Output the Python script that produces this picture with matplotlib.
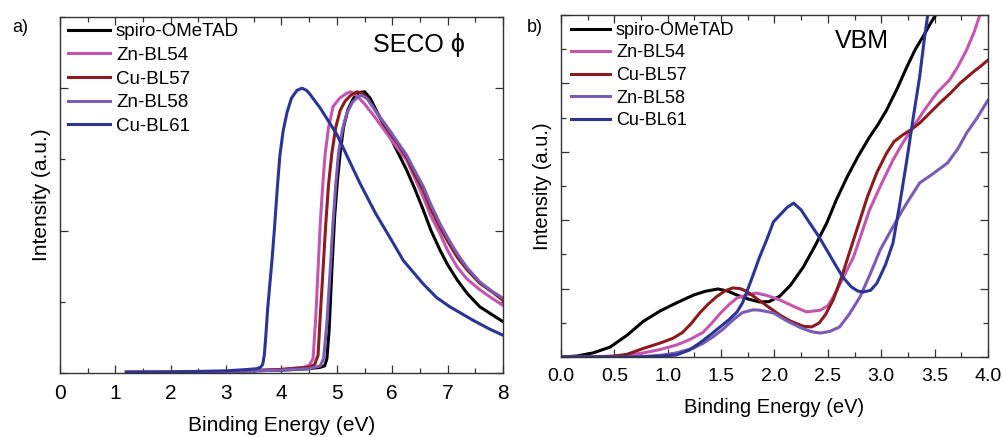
import matplotlib
matplotlib.use("Agg")
import matplotlib.pyplot as plt
from matplotlib.ticker import MultipleLocator

plt.rcParams['font.family'] = ['Liberation Sans', 'DejaVu Sans']

labels = ["spiro-OMeTAD", "Zn-BL54", "Cu-BL57", "Zn-BL58", "Cu-BL61"]
colors = ["#000000", "#c456ae", "#8b1c1e", "#7a5cb6", "#2b3596"]

# ---- (a) secondary electron cut-off ----
seco_spiro_x = [1.2, 2.0, 3.0, 4.0, 4.5, 4.7, 4.78, 4.82, 4.86, 4.91, 4.96, 5.01, 5.06, 5.12, 5.2, 5.3, 5.4, 5.5,
                5.6, 5.75, 5.96, 6.1, 6.26, 6.4, 6.56, 6.7, 6.86, 7.0, 7.17, 7.35, 7.58, 7.8, 8.0]
seco_spiro_y = [0.01, 0.01, 0.02, 0.04, 0.06, 0.08, 0.1, 0.2, 0.6, 1.45, 2.2, 2.7, 3.09, 3.45, 3.7, 3.86, 3.94, 3.95,
                3.86, 3.63, 3.32, 3.1, 2.85, 2.6, 2.29, 2.0, 1.73, 1.52, 1.31, 1.12, 0.93, 0.82, 0.72]

seco_zn54_x = [1.2, 2.0, 3.0, 4.0, 4.4, 4.5, 4.57, 4.62, 4.66, 4.7, 4.75, 4.79, 4.85, 4.93, 5.05, 5.18, 5.25, 5.35,
               5.5, 5.7, 5.96, 6.1, 6.26, 6.4, 6.56, 6.7, 6.86, 7.0, 7.17, 7.35, 7.58, 7.8, 8.0]
seco_zn54_y = [0.01, 0.01, 0.02, 0.05, 0.08, 0.11, 0.2, 0.8, 1.45, 2.1, 2.7, 3.09, 3.45, 3.74, 3.86, 3.93, 3.95, 3.9,
               3.78, 3.58, 3.3, 3.15, 2.99, 2.75, 2.47, 2.2, 1.96, 1.72, 1.49, 1.32, 1.17, 1.05, 0.95]

seco_cu57_x = [1.2, 2.0, 3.0, 4.0, 4.5, 4.6, 4.66, 4.7, 4.75, 4.8, 4.85, 4.91, 4.98, 5.06, 5.15, 5.25, 5.36, 5.45,
               5.55, 5.7, 5.96, 6.1, 6.26, 6.4, 6.56, 6.7, 6.86, 7.0, 7.17, 7.35, 7.58, 7.8, 8.0]
seco_cu57_y = [0.01, 0.01, 0.02, 0.05, 0.08, 0.12, 0.25, 0.8, 1.45, 2.1, 2.65, 3.09, 3.45, 3.69, 3.82, 3.9, 3.95, 3.93,
               3.86, 3.68, 3.37, 3.22, 3.03, 2.8, 2.57, 2.3, 2.05, 1.85, 1.63, 1.45, 1.26, 1.14, 1.02]

seco_zn58_x = [1.2, 2.0, 3.0, 4.0, 4.5, 4.7, 4.76, 4.82, 4.88, 4.93, 4.98, 5.03, 5.1, 5.18, 5.28, 5.38, 5.45, 5.55,
               5.7, 5.96, 6.1, 6.26, 6.4, 6.56, 6.7, 6.86, 7.0, 7.17, 7.35, 7.58, 7.8, 8.0]
seco_zn58_y = [0.01, 0.01, 0.02, 0.04, 0.06, 0.1, 0.2, 0.7, 1.45, 2.1, 2.65, 3.09, 3.42, 3.65, 3.8, 3.88, 3.9, 3.85,
               3.68, 3.4, 3.24, 3.06, 2.85, 2.62, 2.36, 2.1, 1.9, 1.68, 1.48, 1.28, 1.15, 1.05]

seco_cu61_x = [1.2, 2.0, 3.0, 3.4, 3.55, 3.62, 3.66, 3.69, 3.72, 3.75, 3.79, 3.83, 3.87, 3.92, 3.97, 4.03, 4.1, 4.18,
               4.28, 4.37, 4.45, 4.5, 4.7, 5.0, 5.2, 5.42, 5.7, 5.96, 6.2, 6.56, 6.8, 7.04, 7.46, 7.75, 8.0]
seco_cu61_y = [0.01, 0.015, 0.03, 0.05, 0.06, 0.08, 0.12, 0.25, 0.55, 0.9, 1.25, 1.6, 2.0, 2.55, 3.05, 3.4, 3.66, 3.86,
               3.97, 4.0, 3.97, 3.93, 3.72, 3.35, 3.02, 2.66, 2.24, 1.9, 1.58, 1.25, 1.06, 0.93, 0.74, 0.62, 0.53]

# ---- (b) valence band maximum ----
vbm_spiro_x = [0.0, 0.15, 0.3, 0.46, 0.62, 0.77, 0.93, 1.08, 1.24, 1.35, 1.47, 1.56, 1.65, 1.75, 1.86, 1.95, 2.05,
               2.15, 2.27, 2.38, 2.49, 2.58, 2.68, 2.78, 2.89, 2.97, 3.05, 3.15, 3.24, 3.32, 3.39, 3.46, 3.52]
vbm_spiro_y = [0.0, 0.03, 0.12, 0.29, 0.64, 1.04, 1.35, 1.58, 1.81, 1.92, 1.99, 1.93, 1.81, 1.7, 1.61, 1.62, 1.78,
               2.1, 2.63, 3.25, 3.92, 4.6, 5.26, 5.85, 6.43, 6.8, 7.22, 7.85, 8.48, 9.0, 9.36, 9.75, 10.05]

vbm_zn54_x = [0.0, 0.4, 0.6, 0.77, 0.93, 1.08, 1.2, 1.33, 1.41, 1.49, 1.57, 1.65, 1.75, 1.83, 1.93, 2.05, 2.18, 2.3,
              2.43, 2.5, 2.55, 2.64, 2.74, 2.82, 2.89, 3.0, 3.11, 3.2, 3.3, 3.4, 3.52, 3.64, 3.72, 3.8, 3.87, 3.93]
vbm_zn54_y = [0.0, 0.0, 0.04, 0.12, 0.22, 0.35, 0.5, 0.72, 0.98, 1.27, 1.52, 1.73, 1.82, 1.87, 1.8, 1.67, 1.48, 1.32,
              1.37, 1.5, 1.75, 2.3, 2.92, 3.65, 4.3, 5.05, 5.76, 6.25, 6.73, 7.2, 7.72, 8.1, 8.5, 8.98, 9.5, 10.05]

vbm_cu57_x = [0.0, 0.3, 0.5, 0.62, 0.77, 0.93, 1.05, 1.14, 1.22, 1.3, 1.38, 1.46, 1.54, 1.61, 1.68, 1.74, 1.86, 1.95,
              2.05, 2.15, 2.27, 2.35, 2.42, 2.48, 2.55, 2.63, 2.71, 2.79, 2.87, 2.96, 3.05, 3.12, 3.2, 3.28, 3.36,
              3.45, 3.55, 3.65, 3.74, 3.86, 3.93, 4.0]
vbm_cu57_y = [0.0, 0.0, 0.03, 0.08, 0.25, 0.41, 0.55, 0.72, 0.98, 1.29, 1.55, 1.77, 1.94, 2.02, 2.0, 1.92, 1.65, 1.45,
              1.23, 1.05, 0.9, 0.88, 1.0, 1.25, 1.67, 2.35, 3.13, 3.9, 4.68, 5.4, 5.96, 6.3, 6.49, 6.65, 6.84,
              7.12, 7.43, 7.72, 8.01, 8.33, 8.5, 8.68]

vbm_zn58_x = [0.0, 0.6, 0.8, 0.93, 1.08, 1.24, 1.33, 1.42, 1.52, 1.61, 1.7, 1.8, 1.86, 1.99, 2.12, 2.25, 2.35, 2.43,
              2.52, 2.61, 2.7, 2.8, 2.9, 2.99, 3.1, 3.2, 3.28, 3.36, 3.48, 3.62, 3.72, 3.8, 3.9, 4.0]
vbm_zn58_y = [0.0, 0.0, 0.02, 0.05, 0.12, 0.26, 0.4, 0.58, 0.82, 1.08, 1.3, 1.38, 1.37, 1.29, 1.05, 0.85, 0.74, 0.7,
              0.75, 0.88, 1.25, 1.75, 2.45, 3.13, 3.75, 4.3, 4.7, 5.09, 5.35, 5.67, 6.1, 6.55, 7.0, 7.51]

vbm_cu61_x = [0.0, 0.7, 0.9, 1.08, 1.2, 1.3, 1.4, 1.49, 1.57, 1.65, 1.7, 1.74, 1.8, 1.86, 1.93, 1.99, 2.05, 2.12,
              2.18, 2.25, 2.33, 2.41, 2.49, 2.57, 2.64, 2.72, 2.78, 2.83, 2.9, 2.96, 3.04, 3.11, 3.17, 3.24, 3.3,
              3.36, 3.4, 3.44]
vbm_cu61_y = [0.0, 0.0, 0.02, 0.06, 0.2, 0.41, 0.65, 0.88, 1.08, 1.32, 1.58, 1.9, 2.4, 2.92, 3.45, 3.95, 4.15, 4.38,
              4.5, 4.3, 3.92, 3.55, 3.13, 2.7, 2.34, 2.05, 1.93, 1.9, 1.95, 2.16, 2.7, 3.33, 4.4, 5.76, 7.0,
              8.19, 9.2, 10.1]

seco = [(seco_spiro_x, seco_spiro_y), (seco_zn54_x, seco_zn54_y), (seco_cu57_x, seco_cu57_y),
        (seco_zn58_x, seco_zn58_y), (seco_cu61_x, seco_cu61_y)]
vbm = [(vbm_spiro_x, vbm_spiro_y), (vbm_zn54_x, vbm_zn54_y), (vbm_cu57_x, vbm_cu57_y),
       (vbm_zn58_x, vbm_zn58_y), (vbm_cu61_x, vbm_cu61_y)]

fig = plt.figure(figsize=(10.03, 4.37), dpi=100)
ax_a = fig.add_axes([0.0598, 0.1465, 0.4417, 0.8146])
ax_b = fig.add_axes([0.5593, 0.1830, 0.4257, 0.7826])

lw = 2.2
for (x, y), c, lab in zip(seco, colors, labels):
    ax_a.plot(x, y, color=c, lw=lw, label=lab, solid_joinstyle='round')
for (x, y), c, lab in zip(vbm, colors, labels):
    ax_b.plot(x, y, color=c, lw=lw, label=lab, solid_joinstyle='round')


def style(ax, xmaj, xmin, ymaj, ymin, fs, pad):
    ax.xaxis.set_major_locator(MultipleLocator(xmaj))
    ax.xaxis.set_minor_locator(MultipleLocator(xmin))
    ax.yaxis.set_major_locator(MultipleLocator(ymaj))
    ax.yaxis.set_minor_locator(MultipleLocator(ymin))
    ax.tick_params(which='both', direction='in', top=True, right=True, width=0.9, color='#333333')
    ax.tick_params(which='major', length=6, labelsize=fs, pad=pad)
    ax.tick_params(which='minor', length=3.5)
    ax.tick_params(axis='y', labelleft=False)
    for s in ax.spines.values():
        s.set_linewidth(1.0)
        s.set_color('#333333')


ax_a.set_xlim(0, 8)
ax_a.set_ylim(0, 5)
style(ax_a, 1, 0.5, 2, 1, 15, 8)
ax_a.set_xlabel("Binding Energy (eV)", fontsize=15, labelpad=9)
ax_a.set_ylabel("Intensity (a.u.)", fontsize=15, labelpad=3)
ax_a.text(0.81, 0.92, "SECO \u03d5", transform=ax_a.transAxes, ha='center', va='center', fontsize=18)

ax_b.set_xlim(0, 4)
ax_b.set_ylim(0, 10)
style(ax_b, 0.5, 0.25, 2, 1, 14, 8)
ax_b.set_xlabel("Binding Energy (eV)", fontsize=14.5, labelpad=9)
ax_b.set_ylabel("Intensity (a.u.)", fontsize=14.5, labelpad=3)
ax_b.text(0.705, 0.925, "VBM", transform=ax_b.transAxes, ha='center', va='center', fontsize=18)

ax_a.legend(loc='upper left', bbox_to_anchor=(0.018, 0.983), frameon=False, fontsize=13.5,
            handlelength=2.24, handletextpad=0.32, labelspacing=0.35, borderpad=0, borderaxespad=0)
ax_b.legend(loc='upper left', bbox_to_anchor=(0.023, 0.98), frameon=False, fontsize=13,
            handlelength=2.17, handletextpad=0.33, labelspacing=0.31, borderpad=0, borderaxespad=0)

fig.text(12 / 1003, 1 - 28 / 437, "a)", fontsize=13, va='center', ha='left')
fig.text(527 / 1003, 1 - 28 / 437, "b)", fontsize=13, va='center', ha='left')

fig.savefig("out.png", dpi=100)
